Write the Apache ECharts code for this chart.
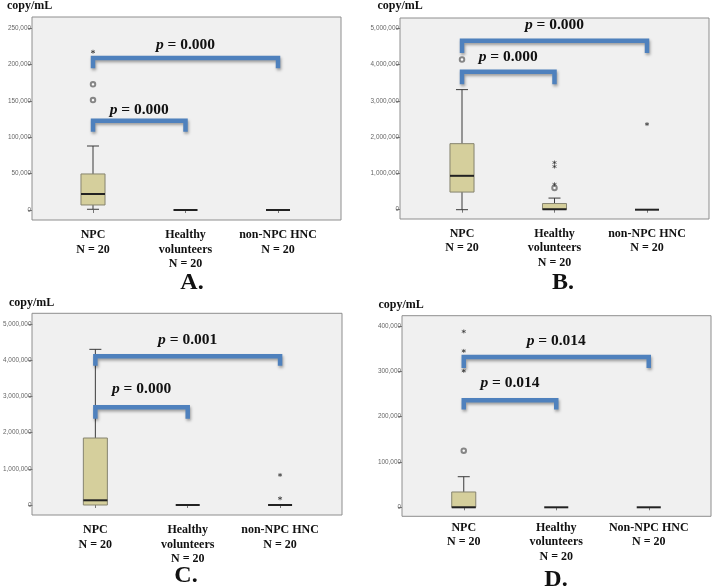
<!DOCTYPE html>
<html><head><meta charset="utf-8">
<script src="https://cdn.jsdelivr.net/npm/echarts@6/dist/echarts.min.js"></script>
<style>html,body{margin:0;padding:0;background:#fff}#c{width:712px;height:586px}</style>
</head><body><div id="c"></div>
<script>
// ---------- DATA ----------
const categoriesABC = ['NPC\nN = 20', 'Healthy\nvolunteers\nN = 20', 'non-NPC HNC\nN = 20'];
const categoriesD = ['NPC\nN = 20', 'Healthy\nvolunteers\nN = 20', 'Non-NPC HNC\nN = 20'];
const unitLabel = 'copy/mL';
const panelLetters = ['A.', 'B.', 'C.', 'D.'];

// y-axis maxima and tick steps
const yMaxA = 250000, yMaxB = 5000000, yMaxC = 5000000, yMaxD = 400000;
const yStepA = 50000, yStepB = 1000000, yStepC = 1000000, yStepD = 100000;

// boxes: [categoryIndex, min, Q1, median, Q3, max]
const boxesA = [[0, 1000, 6900, 22000, 49500, 87900], [1, 0, 0, 0, 0, 0], [2, 0, 0, 0, 0, 0]];
const boxesB = [[0, 0, 486000, 934000, 1820000, 3310000], [1, 0, 10000, 12000, 170000, 320000], [2, 0, 0, 0, 0, 0]];
const boxesC = [[0, 0, 0, 130000, 1850000, 4300000], [1, 0, 0, 0, 0, 0], [2, 0, 0, 0, 0, 0]];
const boxesD = [[0, 0, 0, 0, 33800, 67500], [1, 0, 0, 0, 0, 0], [2, 0, 0, 0, 0, 0]];

// outliers (circles) and extremes (stars): [categoryIndex, value]
const circlesA = [[0, 151000], [0, 172600]];
const starsA = [[0, 217400]];
const circlesB = [[0, 4140000], [1, 600000]];
const starsB = [[1, 700000], [1, 1190000], [1, 1300000], [2, 2360000]];
const circlesC = [];
const starsC = [[2, 185000], [2, 830000]];
const circlesD = [[0, 125000]];
const starsD = [[0, 301000], [0, 345000], [0, 388000]];

// significance brackets: [fromIndex, toIndex, topValue, endValue]
const bracketsA = [[0, 2, 208800, 194600], [0, 1, 122700, 107600]];
const bracketsB = [[0, 2, 4660000, 4320000], [0, 1, 3800000, 3460000]];
const bracketsC = [[0, 2, 4110000, 3850000], [0, 1, 2700000, 2380000]];
const bracketsD = [[0, 2, 331800, 307500], [0, 1, 236200, 215500]];

// p-value labels: [fromIndex, toIndex, value of label centre]
const pPosA = [[0, 2, 226200], [0, 1, 137800]];
const pPosB = [[0, 2, 5080000], [0, 1, 4210000]];
const pPosC = [[0, 2, 4560000], [0, 1, 3200000]];
const pPosD = [[0, 2, 367100], [0, 1, 273700]];
const pTextA = ['0.000', '0.000'];
const pTextB = ['0.000', '0.000'];
const pTextC = ['0.001', '0.000'];
const pTextD = ['0.014', '0.014'];

// ---------- LAYOUT ----------
const SERIF = '"Liberation Serif", "DejaVu Serif", serif';
const panels = [
  {cats: categoriesABC, yMax: yMaxA, yStep: yStepA, boxes: boxesA, circles: circlesA, stars: starsA, brackets: bracketsA, pPos: pPosA, pText: pTextA,
   frame: {left: 32, top: 17, width: 309, height: 203}, data: {left: 46.75, top: 28, width: 277.5, height: 182}, lm: 8,
   unit: [7, 5.5], letter: [192, 283]},
  {cats: categoriesABC, yMax: yMaxB, yStep: yStepB, boxes: boxesB, circles: circlesB, stars: starsB, brackets: bracketsB, pPos: pPosB, pText: pTextB,
   frame: {left: 400, top: 18, width: 309, height: 201}, data: {left: 415.75, top: 28.3, width: 277.5, height: 181.4}, lm: 7.5,
   unit: [377.5, 6], letter: [563, 283]},
  {cats: categoriesABC, yMax: yMaxC, yStep: yStepC, boxes: boxesC, circles: circlesC, stars: starsC, brackets: bracketsC, pPos: pPosC, pText: pTextC,
   frame: {left: 32, top: 313.3, width: 310, height: 201.7}, data: {left: 48.75, top: 324, width: 277.5, height: 181}, lm: 8,
   unit: [9, 303], letter: [186, 576]},
  {cats: categoriesD, yMax: yMaxD, yStep: yStepD, boxes: boxesD, circles: circlesD, stars: starsD, brackets: bracketsD, pPos: pPosD, pText: pTextD,
   frame: {left: 402, top: 315.7, width: 309, height: 200.6}, data: {left: 417.5, top: 326, width: 277.5, height: 181.3}, lm: 4,
   unit: [378.5, 304.7], letter: [556, 580]}
];

const grids = [], xAxes = [], yAxes = [], series = [], graphics = [];

function renderBox(params, api) {
  const x = api.value(0);
  const band = api.size([1, 0])[0];
  const hw = band * 0.13, cw = band * 0.065;
  const pMin = api.coord([x, api.value(1)]);
  const pQ1 = api.coord([x, api.value(2)]);
  const pMed = api.coord([x, api.value(3)]);
  const pQ3 = api.coord([x, api.value(4)]);
  const pMax = api.coord([x, api.value(5)]);
  const cx = pMed[0];
  const wStyle = {stroke: '#3a3a3a', lineWidth: 1};
  const children = [];
  if (pQ3[1] - pMax[1] > 0.5) {
    children.push({type: 'line', shape: {x1: cx, y1: pQ3[1], x2: cx, y2: pMax[1]}, style: wStyle});
    children.push({type: 'line', shape: {x1: cx - cw, y1: pMax[1], x2: cx + cw, y2: pMax[1]}, style: wStyle});
  }
  if (pMin[1] - pQ1[1] > 0.5) {
    children.push({type: 'line', shape: {x1: cx, y1: pQ1[1], x2: cx, y2: pMin[1]}, style: wStyle});
    children.push({type: 'line', shape: {x1: cx - cw, y1: pMin[1], x2: cx + cw, y2: pMin[1]}, style: wStyle});
  }
  if (pQ1[1] - pQ3[1] > 0.5) {
    children.push({type: 'rect', shape: {x: cx - hw, y: pQ3[1], width: 2 * hw, height: pQ1[1] - pQ3[1]},
      style: {fill: '#d5cf9c', stroke: '#86846f', lineWidth: 1}});
  }
  children.push({type: 'line', shape: {x1: cx - hw, y1: pMed[1], x2: cx + hw, y2: pMed[1]},
    style: {stroke: '#222', lineWidth: 2}});
  return {type: 'group', children};
}

function renderBracket(params, api) {
  const a = api.coord([api.value(0), api.value(2)]);
  const b = api.coord([api.value(1), api.value(2)]);
  const a2 = api.coord([api.value(0), api.value(3)]);
  const b2 = api.coord([api.value(1), api.value(3)]);
  return {type: 'polyline', shape: {points: [a2, a, b, b2]},
    style: {stroke: '#4f81bd', lineWidth: 4.5, fill: null, lineJoin: 'miter', lineCap: 'butt',
      shadowColor: 'rgba(0,0,0,0.35)', shadowBlur: 3, shadowOffsetX: 1, shadowOffsetY: 2}};
}

function makeLabelRenderer(texts) {
  return function (params, api) {
    const a = api.coord([api.value(0), api.value(2)]);
    const b = api.coord([api.value(1), api.value(2)]);
    return {type: 'text', x: (a[0] + b[0]) / 2, y: a[1],
      style: {text: '{i|p} = ' + texts[params.dataIndex], fill: '#111', fontFamily: SERIF, fontWeight: 'bold', fontSize: 15.5,
        align: 'center', verticalAlign: 'middle', textAlign: 'center', textVerticalAlign: 'middle',
        rich: {i: {fontStyle: 'italic', fontWeight: 'bold', fontFamily: SERIF, fontSize: 15.5, fill: '#111', color: '#111'}}}};
  };
}

const starPath = 'path://M5,0L5,10M0.67,2.5L9.33,7.5M0.67,7.5L9.33,2.5';

panels.forEach((p, i) => {
  const fg = 2 * i, dg = 2 * i + 1;
  grids.push(Object.assign({show: true, backgroundColor: '#f0f0f0', borderColor: '#8e8e8e', borderWidth: 1, containLabel: false}, p.frame));
  grids.push(Object.assign({show: false, containLabel: false}, p.data));
  xAxes.push({gridIndex: fg, type: 'value', show: false, min: 0, max: 1});
  yAxes.push({gridIndex: fg, type: 'value', show: false, min: 0, max: 1});
  const frameBottom = p.frame.top + p.frame.height;
  const dataBottom = p.data.top + p.data.height;
  xAxes.push({gridIndex: dg, type: 'category', data: p.cats, boundaryGap: true,
    offset: frameBottom - dataBottom,
    axisLine: {show: false},
    axisTick: {show: true, alignWithLabel: true, length: 3, lineStyle: {color: '#777'}},
    axisLabel: {interval: 0, margin: p.lm, fontFamily: SERIF, fontWeight: 'bold', fontSize: 12, lineHeight: 14.5, color: '#111'},
    splitLine: {show: false}});
  yAxes.push({gridIndex: dg, type: 'value', min: 0, max: p.yMax, interval: p.yStep,
    offset: p.data.left - p.frame.left,
    axisLine: {show: false},
    axisTick: {show: true, length: 4, lineStyle: {color: '#777'}},
    axisLabel: {fontSize: 6.4, color: '#666', margin: 1, fontFamily: 'Arial, "Liberation Sans", sans-serif',
      formatter: v => v.toLocaleString('en-US')},
    splitLine: {show: false}});
  const xi = i * 2 + 1, yi = i * 2 + 1;
  series.push({type: 'custom', xAxisIndex: xi, yAxisIndex: yi, renderItem: renderBox, data: p.boxes,
    encode: {x: 0, y: [1, 2, 3, 4, 5]}, z: 3, silent: true});
  series.push({type: 'scatter', xAxisIndex: xi, yAxisIndex: yi, data: p.circles, symbol: 'emptyCircle', symbolSize: 4.5,
    itemStyle: {color: '#6a6a6a', borderColor: '#6a6a6a', borderWidth: 0.6}, z: 4, silent: true});
  series.push({type: 'scatter', xAxisIndex: xi, yAxisIndex: yi, data: p.stars, symbol: starPath, symbolSize: 4,
    itemStyle: {color: 'rgba(0,0,0,0)', borderColor: '#333', borderWidth: 0.9}, z: 4, silent: true});
  series.push({type: 'custom', xAxisIndex: xi, yAxisIndex: yi, renderItem: renderBracket, data: p.brackets,
    encode: {x: [0, 1], y: [2, 3]}, z: 5, silent: true});
  series.push({type: 'custom', xAxisIndex: xi, yAxisIndex: yi, renderItem: makeLabelRenderer(p.pText), data: p.pPos,
    encode: {x: [0, 1], y: 2}, z: 6, silent: true});
  graphics.push({type: 'text', x: p.unit[0], y: p.unit[1],
    style: {text: unitLabel, fill: '#111', font: 'bold 12px ' + SERIF, textAlign: 'left', textVerticalAlign: 'middle'}});
  graphics.push({type: 'text', x: p.letter[0], y: p.letter[1],
    style: {text: panelLetters[i], fill: '#111', font: 'bold 24px ' + SERIF, textAlign: 'center', textVerticalAlign: 'middle'}});
});

const chart = echarts.init(document.getElementById('c'), null, {renderer: 'canvas'});
chart.setOption({
  backgroundColor: '#ffffff',
  animation: false,
  grid: grids, xAxis: xAxes, yAxis: yAxes, series: series, graphic: graphics
});
</script></body></html>
